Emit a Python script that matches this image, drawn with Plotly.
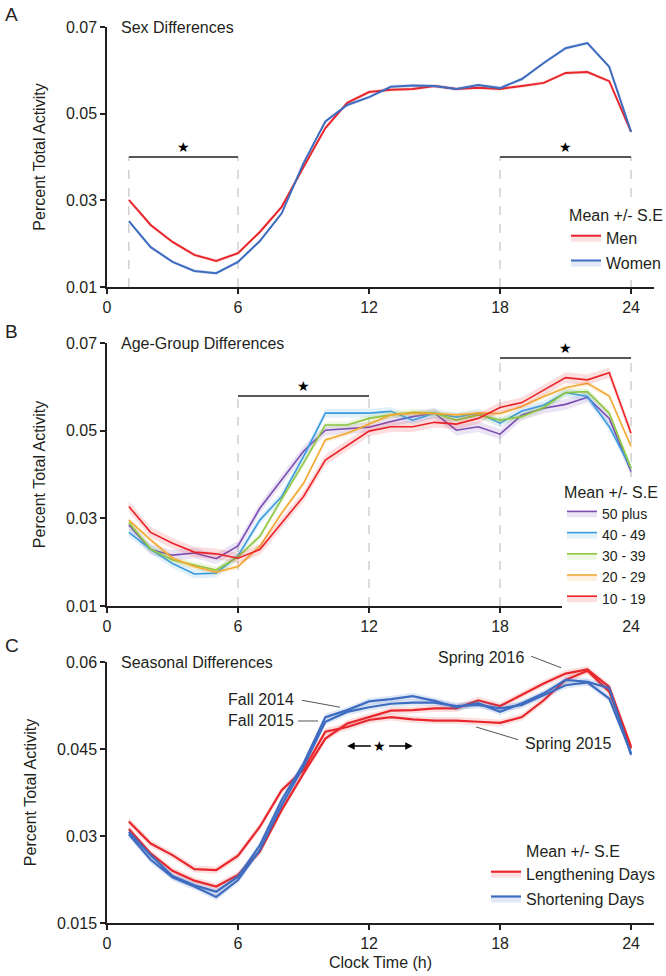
import plotly.graph_objects as go

# ---------------- data ----------------
hours = list(range(1, 25))

# Panel A: sex differences
men = [0.0301, 0.0243, 0.0204, 0.0174, 0.0160, 0.0178, 0.0227, 0.0285, 0.0377, 0.0467,
       0.0525, 0.0550, 0.0555, 0.0557, 0.0564, 0.0557, 0.0560, 0.0557, 0.0564, 0.0571,
       0.0594, 0.0596, 0.0575, 0.0458]
women = [0.0252, 0.0192, 0.0158, 0.0137, 0.0132, 0.0158, 0.0206, 0.0270, 0.0386, 0.0482,
         0.0520, 0.0538, 0.0562, 0.0565, 0.0564, 0.0557, 0.0566, 0.0559, 0.0580, 0.0617,
         0.0651, 0.0663, 0.0608, 0.0458]
se_men = 0.0004
se_women = 0.0004

# Panel B: age-group differences
age_50plus = [0.0285, 0.0229, 0.0216, 0.0221, 0.0208, 0.0237, 0.0323, 0.0387, 0.0453, 0.0501,
              0.0505, 0.0508, 0.0521, 0.0532, 0.0540, 0.0501, 0.0509, 0.0492, 0.0536, 0.0551,
              0.0560, 0.0576, 0.0528, 0.0407]
age_40_49 = [0.0268, 0.0229, 0.0197, 0.0173, 0.0175, 0.0215, 0.0296, 0.0350, 0.0441, 0.0540,
             0.0540, 0.0540, 0.0544, 0.0524, 0.0540, 0.0531, 0.0540, 0.0517, 0.0545, 0.0558,
             0.0587, 0.0578, 0.0509, 0.0414]
age_30_39 = [0.0290, 0.0230, 0.0205, 0.0193, 0.0182, 0.0212, 0.0259, 0.0344, 0.0426, 0.0513,
             0.0513, 0.0528, 0.0536, 0.0542, 0.0540, 0.0524, 0.0536, 0.0524, 0.0532, 0.0553,
             0.0587, 0.0589, 0.0540, 0.0414]
age_20_29 = [0.0296, 0.0251, 0.0209, 0.0190, 0.0177, 0.0190, 0.0236, 0.0312, 0.0380, 0.0479,
             0.0494, 0.0515, 0.0536, 0.0540, 0.0539, 0.0536, 0.0540, 0.0539, 0.0555, 0.0578,
             0.0598, 0.0608, 0.0579, 0.0464]
age_10_19 = [0.0327, 0.0268, 0.0243, 0.0223, 0.0219, 0.0209, 0.0229, 0.0289, 0.0350, 0.0433,
             0.0467, 0.0499, 0.0509, 0.0509, 0.0519, 0.0515, 0.0528, 0.0553, 0.0564, 0.0593,
             0.0621, 0.0616, 0.0632, 0.0494]
age_labels = ["50 plus", "40 - 49", "30 - 39", "20 - 29", "10 - 19"]
age_se = [0.0012, 0.0010, 0.0008, 0.0006, 0.0012]

# Panel C: seasonal differences
spring_2015 = [0.0325, 0.0287, 0.0267, 0.0243, 0.0241, 0.0266, 0.0316, 0.0379, 0.0414, 0.0480,
               0.0488, 0.0500, 0.0505, 0.0501, 0.0499, 0.0499, 0.0497, 0.0495, 0.0505, 0.0534,
               0.0569, 0.0585, 0.0549, 0.0451]
spring_2016 = [0.0312, 0.0270, 0.0240, 0.0223, 0.0213, 0.0233, 0.0273, 0.0345, 0.0408, 0.0468,
               0.0494, 0.0505, 0.0516, 0.0517, 0.0520, 0.0520, 0.0534, 0.0524, 0.0543, 0.0563,
               0.0580, 0.0587, 0.0557, 0.0454]
fall_2014 = [0.0307, 0.0267, 0.0231, 0.0215, 0.0204, 0.0230, 0.0284, 0.0362, 0.0425, 0.0505,
             0.0517, 0.0532, 0.0536, 0.0541, 0.0533, 0.0522, 0.0529, 0.0514, 0.0529, 0.0546,
             0.0569, 0.0566, 0.0555, 0.0440]
fall_2015 = [0.0303, 0.0259, 0.0229, 0.0213, 0.0195, 0.0224, 0.0276, 0.0353, 0.0420, 0.0497,
             0.0514, 0.0522, 0.0528, 0.0530, 0.0530, 0.0524, 0.0526, 0.0520, 0.0526, 0.0543,
             0.0560, 0.0565, 0.0537, 0.0443]
se_season = 0.0006

x_ticks = [0, 6, 12, 18, 24]
yticks_ab = [0.01, 0.03, 0.05, 0.07]
yticks_c = [0.015, 0.03, 0.045, 0.06]

# ---------------- styling ----------------
FONT = "Liberation Sans, Arial, sans-serif"
INK = "#231f20"
RED = "#e8262b"
BLUE = "#3d6cc0"
AGE_COLORS = ["#7b4cb3", "#3b9be0", "#8dc63f", "#f2a931", "#ec2227"]


def rgba(hexc, a):
    h = hexc.lstrip("#")
    r, g, b = int(h[0:2], 16), int(h[2:4], 16), int(h[4:6], 16)
    return f"rgba({r},{g},{b},{a})"


fig = go.Figure()


def add_band(mean, se, color, name, xa, ya, legend, group, showlegend=True, width=2.0, alpha=0.15):
    upper = [m + se for m in mean]
    lower = [m - se for m in mean]
    fc = rgba(color, alpha)
    fig.add_trace(go.Scatter(x=hours, y=upper, mode="lines", line=dict(width=0, color=fc),
                             showlegend=False, hoverinfo="skip", xaxis=xa, yaxis=ya,
                             legendgroup=group))
    fig.add_trace(go.Scatter(x=hours, y=mean, mode="lines", name=name,
                             line=dict(width=width, color=color), fill="tonexty", fillcolor=fc,
                             showlegend=showlegend, legend=legend, xaxis=xa, yaxis=ya,
                             legendgroup=group))
    fig.add_trace(go.Scatter(x=hours, y=lower, mode="lines", line=dict(width=0, color=fc),
                             fill="tonexty", fillcolor=fc, showlegend=False, hoverinfo="skip",
                             xaxis=xa, yaxis=ya, legendgroup=group))


# Panel A
add_band(men, se_men, RED, "Men", "x", "y", "legend", "men", width=2.0)
add_band(women, se_women, BLUE, "Women", "x", "y", "legend", "women", width=2.0)

# Panel B
for series, lab, col, se in zip([age_50plus, age_40_49, age_30_39, age_20_29, age_10_19],
                                age_labels, AGE_COLORS, age_se):
    add_band(series, se, col, lab, "x2", "y2", "legend2", "age" + lab, width=1.6)

# Panel C
add_band(spring_2015, se_season, RED, "Lengthening Days", "x3", "y3", "legend3", "len", True, 2.2)
add_band(spring_2016, se_season, RED, "Lengthening Days", "x3", "y3", "legend3", "len", False, 2.2)
add_band(fall_2014, se_season, BLUE, "Shortening Days", "x3", "y3", "legend3", "sho", True, 2.2)
add_band(fall_2015, se_season, BLUE, "Shortening Days", "x3", "y3", "legend3", "sho", False, 2.2)

# ---------------- layout geometry ----------------
W, H = 666, 976
L = 107
R = W - 654
T = 27
B_ = H - 923
PH = H - T - B_
PW = W - L - R


def py(page_y):
    """page pixel y -> paper fraction"""
    return (H - B_ - page_y) / PH


def px(page_x):
    """page pixel x -> paper fraction"""
    return (page_x - L) / PW


axis_common = dict(showline=True, linecolor=INK, linewidth=1.5, ticks="outside", ticklen=5,
                   tickwidth=1.5, tickcolor=INK, showgrid=False, zeroline=False,
                   automargin=False,
                   tickfont=dict(family=FONT, size=16, color=INK))

domains = [[py(287), py(27)], [py(606), py(343)], [py(923), py(662)]]
for i, (dom, yr, yt) in enumerate(zip(domains,
                                      [[0.01, 0.07], [0.01, 0.07], [0.015, 0.06]],
                                      [yticks_ab, yticks_ab, yticks_c])):
    sfx = "" if i == 0 else str(i + 1)
    xa = dict(axis_common, range=[0, 25.05], tickvals=x_ticks, domain=[0, 1],
              anchor="y" + sfx)
    if i == 2:
        xa["title"] = dict(text="Clock Time (h)", font=dict(family=FONT, size=16, color=INK),
                           standoff=6)
    ya = dict(axis_common, range=yr, tickvals=yt, ticktext=[f"{v:g}" for v in yt],
              domain=dom, anchor="x" + sfx,
              title=dict(text="Percent Total Activity", font=dict(family=FONT, size=16, color=INK),
                         standoff=16))
    fig.update_layout(**{"xaxis" + sfx: xa, "yaxis" + sfx: ya})

# ---------------- shapes & annotations ----------------
shapes = []
annotations = []
DASH = "#c4c4c4"


def sig_bar(xa, ya, x0, x1, level, bottom, star_x):
    shapes.append(dict(type="line", xref=xa, yref=ya, x0=x0, x1=x1, y0=level, y1=level,
                       line=dict(color=INK, width=1.5)))
    for xv in (x0, x1):
        shapes.append(dict(type="line", xref=xa, yref=ya, x0=xv, x1=xv, y0=bottom, y1=level,
                           line=dict(color=DASH, width=1.2, dash="dash"), layer="below"))
    annotations.append(dict(xref=xa, yref=ya, x=star_x, y=level, text="★", showarrow=False,
                            yanchor="bottom", yshift=0, font=dict(size=14, color="black")))


sig_bar("x", "y", 1, 6, 0.04, 0.01, 3.5)
sig_bar("x", "y", 18, 24, 0.04, 0.01, 21)
sig_bar("x2", "y2", 6, 12, 0.0579, 0.01, 9)
sig_bar("x2", "y2", 18, 24, 0.0666, 0.01, 21)

# panel letters and titles
for letter, ypx in zip(["A", "B", "C"], [15, 331, 645]):
    annotations.append(dict(xref="paper", yref="paper", x=px(3), y=py(ypx), text=letter,
                            showarrow=False, xanchor="left", yanchor="middle",
                            font=dict(family=FONT, size=19, color=INK)))
for title, ydm in zip(["Sex Differences", "Age-Group Differences", "Seasonal Differences"],
                      ["y domain", "y2 domain", "y3 domain"]):
    annotations.append(dict(xref=ydm.replace("y", "x"), yref=ydm, x=0.022, y=1.0, text=title,
                            showarrow=False, xanchor="left", yanchor="middle",
                            font=dict(family=FONT, size=16, color=INK)))

# panel C labels
GRAY = "#555555"
lab_font = dict(family=FONT, size=16, color=INK)


def c_dom(v):
    return (v - 0.015) / 0.045


annotations += [
    dict(xref="x3", yref="y3", x=8.66, y=0.05345, text="Fall 2014", showarrow=False,
         xanchor="right", yanchor="middle", font=lab_font),
    dict(xref="x3", yref="y3", x=8.66, y=0.04983, text="Fall 2015", showarrow=False,
         xanchor="right", yanchor="middle", font=lab_font),
    dict(xref="x3", yref="y3 domain", x=17.13, y=c_dom(0.0607), text="Spring 2016",
         showarrow=False, xanchor="center", yanchor="middle", font=lab_font),
    dict(xref="x3", yref="y3", x=21.12, y=0.04603, text="Spring 2015", showarrow=False,
         xanchor="center", yanchor="middle", font=lab_font),
]
shapes += [
    dict(type="line", xref="x3", yref="y3", x0=8.93, x1=10.67, y0=0.0534, y1=0.0522,
         line=dict(color=GRAY, width=1)),
    dict(type="line", xref="x3", yref="y3", x0=8.75, x1=9.67, y0=0.04983, y1=0.04983,
         line=dict(color=GRAY, width=1)),
    dict(type="line", xref="x3", yref="y3 domain", x0=19.42, x1=20.8,
         y0=c_dom(0.0610), y1=c_dom(0.0590), line=dict(color=GRAY, width=1)),
    dict(type="line", xref="x3", yref="y3", x0=16.9, x1=18.83, y0=0.0488, y1=0.0466,
         line=dict(color=GRAY, width=1)),
]
# double arrow with star
annotations += [
    dict(xref="x3", yref="y3", x=12.5, y=0.0455, text="★", showarrow=False,
         font=dict(size=14, color="black")),
    dict(xref="x3", yref="y3", axref="x3", ayref="y3", x=11.0, y=0.0455, ax=12.15, ay=0.0455,
         text="", showarrow=True, arrowhead=2, arrowsize=1, arrowwidth=1.5, arrowcolor="black"),
    dict(xref="x3", yref="y3", axref="x3", ayref="y3", x=14.0, y=0.0455, ax=12.85, ay=0.0455,
         text="", showarrow=True, arrowhead=2, arrowsize=1, arrowwidth=1.5, arrowcolor="black"),
]


def leg(xpage, ypage, size, gap):
    return dict(x=px(xpage), y=py(ypage), xanchor="left", yanchor="top",
                bgcolor="white", borderwidth=0, font=dict(family=FONT, size=size, color=INK),
                title=dict(text="Mean +/- S.E", side="top center",
                           font=dict(family=FONT, size=16, color=INK)),
                traceorder="grouped", tracegroupgap=gap, itemwidth=30)


fig.update_layout(
    width=W, height=H,
    margin=dict(l=L, r=R, t=T, b=B_, autoexpand=False),
    paper_bgcolor="white", plot_bgcolor="white",
    font=dict(family=FONT, size=16, color=INK),
    shapes=shapes, annotations=annotations,
    legend=leg(566, 200, 16, 1),
    legend2=leg(562, 477, 14, 0),
    legend3=leg(486, 836, 16, 1),
    showlegend=True,
)

# remove the default 8px page margin so the 666x976 figure fills the window exactly
fig.write_html("out.html",
               config={"displayModeBar": False},
               post_script="document.body.style.margin='0';document.body.style.overflow='hidden';")
